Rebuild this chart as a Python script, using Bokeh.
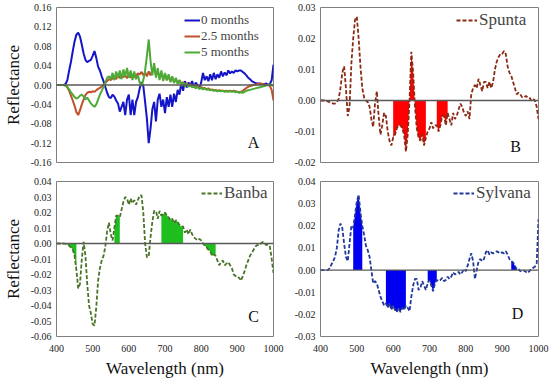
from bokeh.plotting import figure
from bokeh.layouts import column, row
from bokeh.models import Range1d, FixedTicker, NumeralTickFormatter, Span, Label, Legend, LegendItem
from bokeh.embed import file_html
from bokeh.resources import INLINE

# ---------------- data ----------------
wavelength = list(range(400, 1001, 5))
x_ticks = [400, 500, 600, 700, 800, 900, 1000]

ticks_a = [-0.16, -0.12, -0.08, -0.04, 0.0, 0.04, 0.08, 0.12, 0.16]
ticks_b = [-0.02, -0.01, 0.0, 0.01, 0.02, 0.03]
ticks_c = [-0.06, -0.05, -0.04, -0.03, -0.02, -0.01, 0.0, 0.01, 0.02, 0.03, 0.04]
ticks_d = [-0.03, -0.02, -0.01, 0.0, 0.01, 0.02, 0.03, 0.04]

series_labels_a = ["0 months", "2.5 months", "5 months"]

months_0 = [
    0, 0, 0, 0, 0, 0.002, 0.01, 0.03, 0.048, 0.07,
    0.09, 0.104, 0.108, 0.10, 0.083, 0.065, 0.052, 0.047, 0.05, 0.052,
    0.06, 0.07, 0.056, 0.038, 0.03, 0.018, 0.008, -0.004, -0.016, -0.025,
    -0.027, -0.02, -0.024, -0.032, -0.038, -0.055, -0.045, -0.035, -0.062, -0.03,
    -0.02, -0.062, -0.03, -0.062, -0.035, -0.025, -0.007, 0.006, -0.002, -0.035,
    -0.07, -0.12, -0.09, -0.05, -0.035, -0.075, -0.03, -0.018, -0.045, -0.03,
    -0.058, -0.025, -0.045, -0.02, -0.045, -0.018, -0.035, -0.01, -0.02, 0.005,
    -0.012, 0.008, -0.005, 0.005, 0.0, 0.008, -0.005, 0.005, 0.0, -0.008,
    0.005, 0.025, 0.01, 0.018, 0.008, 0.022, 0.01, 0.025, 0.012, 0.022,
    0.015, 0.028, 0.018, 0.026, 0.02, 0.03, 0.024, 0.028, 0.025, 0.03,
    0.028, 0.03, 0.03, 0.027, 0.024, 0.02, 0.015, 0.012, 0.008, 0.006,
    0.004, 0.003, 0.003, 0.002, 0.002, 0.002, 0.003, 0.0, 0.002, 0.01,
    0.042,
]

months_2_5 = [
    0, 0, 0, 0, 0, -0.001, -0.005, -0.012, -0.022, -0.032,
    -0.043, -0.056, -0.062, -0.052, -0.04, -0.03, -0.021, -0.016, -0.014, -0.015,
    -0.013, -0.014, -0.011, -0.008, -0.006, -0.003, 0.0, 0.004, 0.008, 0.012,
    0.01, 0.014, 0.016, 0.012, 0.02, 0.014, 0.022, 0.016, 0.02, 0.014,
    0.022, 0.015, 0.022, 0.016, 0.02, 0.024, 0.022, 0.027, 0.02, 0.026,
    0.018, 0.028, 0.02, 0.03, 0.036, 0.02, 0.028, 0.015, 0.025, 0.012,
    0.022, 0.01, 0.018, 0.008, 0.016, 0.006, 0.012, 0.004, 0.01, 0.002,
    0.006, 0.0, 0.004, -0.002, 0.002, -0.003, -0.001, -0.005, -0.003, -0.006,
    -0.004, -0.007, -0.006, -0.009, -0.007, -0.01, -0.009, -0.011, -0.01, -0.012,
    -0.011, -0.012, -0.012, -0.013, -0.012, -0.013, -0.012, -0.013, -0.012, -0.013,
    -0.014, -0.015, -0.014, -0.012, -0.009, -0.006, -0.004, -0.002, -0.001, 0.0,
    0.001, 0.002, 0.002, 0.003, 0.002, 0.001, 0.0, 0.0, -0.002, -0.01,
    -0.032,
]

months_5 = [
    0, 0, 0, 0, 0, -0.001, -0.004, -0.009, -0.015, -0.02,
    -0.025, -0.028, -0.026, -0.022, -0.02, -0.024, -0.03, -0.026, -0.032, -0.038,
    -0.042, -0.045, -0.04, -0.03, -0.02, -0.012, -0.004, 0.005, 0.015, 0.018,
    0.012, 0.025, 0.01, 0.028, 0.015, 0.03, 0.012, 0.032, 0.018, 0.035,
    0.015, 0.03, 0.01, 0.028, 0.012, 0.02, 0.005, -0.002, 0.01, 0.03,
    0.06, 0.094, 0.05, 0.02, 0.045, 0.015, 0.035, 0.01, 0.03, 0.008,
    0.025, 0.01, 0.022, 0.006, 0.018, 0.004, 0.015, 0.002, 0.01, -0.002,
    0.006, -0.003, 0.003, -0.004, 0.0, -0.005, -0.003, -0.007, -0.004, -0.008,
    -0.006, -0.009, -0.007, -0.01, -0.009, -0.011, -0.01, -0.012, -0.011, -0.013,
    -0.012, -0.013, -0.012, -0.014, -0.013, -0.014, -0.013, -0.014, -0.013, -0.015,
    -0.014, -0.016, -0.015, -0.016, -0.014, -0.012, -0.011, -0.01, -0.009, -0.008,
    -0.007, -0.006, -0.005, -0.004, -0.003, -0.002, -0.001, 0.0, 0.001, 0.0,
    -0.002,
]

spunta = [
    0.0, 0.0, 0.0, 0.0, -0.0003, -0.0005, -0.0008, -0.001, -0.001, -0.0005,
    0.0005, 0.004, 0.009, 0.011, 0.004, -0.005, -0.002, 0.012, 0.02, 0.026,
    0.027, 0.02, 0.011, 0.004, 0.001, 0.0, -0.0005, -0.002, -0.006, -0.0085,
    -0.001, 0.003, -0.005, -0.011, -0.008, -0.004, -0.005, -0.01, -0.013, -0.0145,
    -0.012, -0.011, -0.009, -0.008, -0.008, -0.009, -0.011, -0.0165, -0.011, 0.0,
    0.0157, 0.009, -0.002, -0.009, -0.012, -0.013, -0.011, -0.0145, -0.012, -0.01,
    -0.009, -0.007, -0.009, -0.008, -0.008, -0.01, -0.008, -0.005, -0.005, -0.008,
    -0.004, -0.006, -0.008, -0.004, -0.006, -0.005, -0.003, -0.001, -0.002, -0.004,
    -0.005, -0.0035, -0.006, 0.002, 0.004, 0.005, 0.004, 0.007, 0.005, 0.003,
    0.006, 0.006, 0.004, 0.006, 0.004, 0.006, 0.010, 0.0125, 0.014, 0.015,
    0.015, 0.016, 0.015, 0.011, 0.009, 0.008, 0.006, 0.004, 0.002, 0.0025,
    0.002, 0.001, 0.001, 0.0015, 0.001, 0.001, 0.0, 0.0005, 0.0, -0.002,
    -0.006,
]

banba = [
    0, 0, 0, 0, 0, -0.0003, -0.0008, -0.0015, -0.0025, -0.004,
    -0.008, -0.017, -0.029, -0.026, -0.01, 0.001, -0.008, -0.026, -0.04, -0.045,
    -0.052, -0.053, -0.041, -0.024, -0.016, -0.011, -0.008, -0.002, 0.008, 0.0135,
    0.006, 0.002, 0.01, 0.018, 0.018, 0.017, 0.022, 0.027, 0.03, 0.029,
    0.025, 0.029, 0.026, 0.028, 0.025, 0.028, 0.031, 0.031, 0.02, 0.0,
    -0.009, -0.008, 0.004, 0.014, 0.021, 0.021, 0.016, 0.021, 0.018, 0.019,
    0.02, 0.018, 0.017, 0.015, 0.016, 0.013, 0.015, 0.014, 0.012, 0.011,
    0.011, 0.007, 0.009, 0.006, 0.009, 0.006, 0.004, 0.003, 0.002, 0.003,
    0.002, 0.0, -0.0015, -0.0025, -0.004, -0.005, -0.008, -0.007, -0.008, -0.011,
    -0.014, -0.012, -0.011, -0.014, -0.013, -0.012, -0.014, -0.016, -0.02, -0.021,
    -0.022, -0.022, -0.024, -0.021, -0.018, -0.014, -0.011, -0.008, -0.006, -0.004,
    -0.002, -0.001, -0.001, 0.0, 0.001, 0.0, -0.001, -0.0005, -0.002, -0.01,
    -0.019,
]

sylvana = [
    0, 0, 0, 0, 0.0, 0.0008, 0.0025, 0.004, 0.006, 0.010,
    0.018, 0.021, 0.019, 0.012, 0.006, 0.004, 0.012, 0.02, 0.019, 0.025,
    0.031, 0.034, 0.026, 0.020, 0.016, 0.011, 0.009, 0.006, 0.0, -0.006,
    -0.005, -0.006, -0.009, -0.012, -0.014, -0.016, -0.015, -0.017, -0.015, -0.018,
    -0.016, -0.018, -0.019, -0.017, -0.019, -0.017, -0.018, -0.016, -0.017, -0.0186,
    -0.012, -0.007, -0.004, -0.004, -0.009, -0.008, -0.005, -0.007, -0.009, -0.006,
    -0.0045, -0.007, -0.0096, -0.006, -0.0045, -0.005, -0.0045, -0.0035, -0.005, -0.0045,
    -0.003, -0.004, -0.003, -0.001, -0.002, -0.0015, -0.0008, -0.002, -0.001, 0.0005,
    -0.0005, 0.002, 0.005, 0.0076, 0.004, -0.004, 0.0, 0.004, 0.005, 0.004,
    0.005, 0.008, 0.009, 0.007, 0.008, 0.0075, 0.008, 0.0085, 0.008, 0.0075,
    0.008, 0.0075, 0.0085, 0.007, 0.005, 0.004, 0.0035, 0.002, 0.0003, 0.0005,
    -0.0005, 0.0, -0.0002, -0.0008, -0.0013, -0.0005, 0.0005, 0.001, 0.0015, 0.003,
    0.023,
]

# significant wavelength bands (shaded)
spunta_bands = [(600, 690), (720, 750)]
banba_bands = [(430, 455), (560, 575), (690, 750), (810, 840)]
sylvana_bands = [(490, 515), (580, 635), (695, 720), (925, 940)]

SERIF = "'Liberation Serif', 'DejaVu Serif', serif"


def make_fig(width, height, left, right, top, bottom, yr, yticks, show_x, ylabel):
    p = figure(width=width, height=height,
               x_range=Range1d(400, 1000), y_range=Range1d(yr[0], yr[1]),
               output_backend="svg", toolbar_location=None,
               min_border_left=left, min_border_right=right,
               min_border_top=top, min_border_bottom=bottom)
    p.grid.visible = False
    p.outline_line_color = "#7f7f7f"
    p.outline_line_width = 1
    p.background_fill_color = "white"
    for ax in p.axis:
        ax.axis_line_color = None
        ax.major_tick_line_color = None
        ax.minor_tick_line_color = None
        ax.major_tick_out = 0
        ax.major_tick_in = 0
        ax.minor_tick_out = 0
        ax.major_label_text_font = SERIF
        ax.major_label_text_font_size = "10px"
        ax.major_label_text_color = "#222222"
        ax.major_label_standoff = 5
        ax.axis_label_text_font = SERIF
        ax.axis_label_text_font_size = "17px"
        ax.axis_label_text_font_style = "normal"
        ax.axis_label_text_color = "#111111"
    p.yaxis.ticker = FixedTicker(ticks=yticks)
    p.yaxis.formatter = NumeralTickFormatter(format="0.00")
    p.xaxis.ticker = FixedTicker(ticks=x_ticks)
    if show_x:
        p.xaxis.axis_label = "Wavelength (nm)"
        p.xaxis.major_label_standoff = 8
        p.xaxis.axis_label_standoff = 4
    else:
        p.xaxis.visible = False
    if ylabel:
        p.yaxis.axis_label = "Reflectance"
        p.yaxis.axis_label_standoff = 5
    return p


def shade(p, values, bands, color):
    for a, b in bands:
        xs = [w for w in wavelength if a <= w <= b]
        ys = [v for w, v in zip(wavelength, values) if a <= w <= b]
        p.varea(x=xs, y1=[0] * len(xs), y2=ys, fill_color=color, fill_alpha=1.0)


def zero_line(p):
    p.add_layout(Span(location=0, dimension="width", line_color="#5a5a5a", line_width=1.3))


def letter(p, x, y, t):
    p.add_layout(Label(x=x, y=y, text=t, text_font=SERIF, text_font_size="16px",
                       text_align="center", text_baseline="middle", text_color="#111111"))


def single_legend(p, r, text, loc):
    lg = Legend(items=[LegendItem(label=text, renderers=[r])], location=loc,
                label_text_font=SERIF, label_text_font_size="17px",
                glyph_width=21, glyph_height=18, label_height=18, label_standoff=2,
                padding=4, margin=0, spacing=0,
                background_fill_alpha=0, border_line_alpha=0)
    p.add_layout(lg)


# ---------------- panel A ----------------
pa = make_fig(290, 171, 55, 17, 7, 9, (-0.16, 0.16), ticks_a, False, True)
zero_line(pa)
ra = pa.line(wavelength, months_0, line_color="#1414C8", line_width=2)
rb = pa.line(wavelength, months_2_5, line_color="#C0502A", line_width=2)
rc = pa.line(wavelength, months_5, line_color="#4CAA36", line_width=2)
leg_a = Legend(items=[LegendItem(label=series_labels_a[0], renderers=[ra]),
                      LegendItem(label=series_labels_a[1], renderers=[rb]),
                      LegendItem(label=series_labels_a[2], renderers=[rc])],
               location=(124, 98),
               label_text_font=SERIF, label_text_font_size="13px",
               glyph_width=16, glyph_height=16, label_height=16, label_standoff=1,
               padding=4, margin=0, spacing=0,
               background_fill_alpha=0, border_line_alpha=0)
pa.add_layout(leg_a)
letter(pa, 945, -0.119, "A")

# ---------------- panel B ----------------
pb = make_fig(260, 171, 30, 12, 7, 9, (-0.02, 0.03), ticks_b, False, False)
shade(pb, spunta, spunta_bands, "#FF0000")
zero_line(pb)
r_sp = pb.line(wavelength, spunta, line_color="#8B2A14", line_width=1.8, line_dash="4 2")
single_legend(pb, r_sp, "Spunta", (132, 128))
letter(pb, 937, -0.0148, "B")

# ---------------- panel C ----------------
pc = make_fig(290, 209, 55, 17, 10, 44, (-0.06, 0.04), ticks_c, True, True)
shade(pc, banba, banba_bands, "#1EBE1E")
zero_line(pc)
r_ba = pc.line(wavelength, banba, line_color="#4A7427", line_width=1.8, line_dash="4 2")
single_legend(pc, r_ba, "Banba", (141, 129))
letter(pc, 945, -0.047, "C")

# ---------------- panel D ----------------
pd_ = make_fig(260, 209, 30, 12, 10, 44, (-0.03, 0.04), ticks_d, True, False)
shade(pd_, sylvana, sylvana_bands, "#0000F0")
zero_line(pd_)
r_sy = pd_.line(wavelength, sylvana, line_color="#23399A", line_width=1.8, line_dash="4 2")
single_legend(pd_, r_sy, "Sylvana", (129, 129))
letter(pd_, 942, -0.0197, "D")

layout = column(row(pa, pb), row(pc, pd_))

with open("out.html", "w") as f:
    f.write(file_html(layout, INLINE))
